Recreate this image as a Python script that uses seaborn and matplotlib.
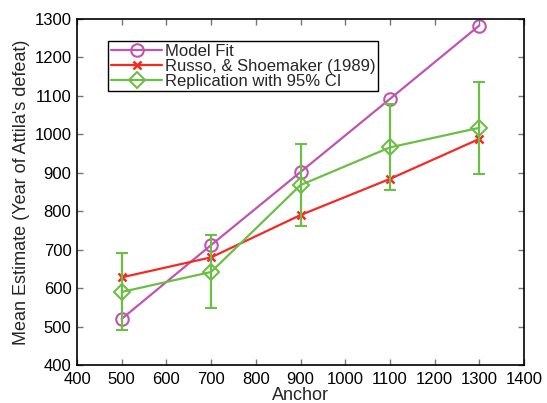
import matplotlib
matplotlib.use("Agg")
import matplotlib.pyplot as plt
import seaborn as sns
import pandas as pd

anchors = [500, 700, 900, 1100, 1300]
model_fit = [520, 712, 902, 1092, 1283]
russo = [628, 680, 790, 884, 988]
replication = [590, 642, 868, 966, 1017]
ci_low = [490, 548, 762, 855, 898]
ci_high = [692, 737, 975, 1080, 1135]

purple = "#c154b0"
red = "#f52a24"
green = "#6cbf45"

sns.set_style("ticks")
plt.rcParams["font.family"] = ["Liberation Sans", "DejaVu Sans"]

fig = plt.figure(figsize=(5.47, 4.03), dpi=100)
ax = fig.add_axes([77 / 547, 38 / 403, 447 / 547, 346 / 403])

df = pd.DataFrame({"anchor": anchors, "model": model_fit, "russo": russo, "rep": replication})

sns.lineplot(data=df, x="anchor", y="model", ax=ax, color=purple, lw=1.6,
             marker="o", ms=9, mfc="none", mec=purple, mew=1.5, label="Model Fit")
sns.lineplot(data=df, x="anchor", y="russo", ax=ax, color=red, lw=1.6,
             marker="x", ms=6, mec=red, mew=1.8, label="Russo, & Shoemaker (1989)")
sns.lineplot(data=df, x="anchor", y="rep", ax=ax, color=green, lw=1.6,
             marker="D", ms=8, mfc="none", mec=green, mew=1.5, label="Replication with 95% CI")

yerr = [[r - lo for r, lo in zip(replication, ci_low)],
        [hi - r for r, hi in zip(replication, ci_high)]]
ax.errorbar(anchors, replication, yerr=yerr, fmt="none", ecolor=green,
            elinewidth=1.6, capsize=4, capthick=1.5)

ax.set_xlim(400, 1400)
ax.set_ylim(400, 1300)
ax.set_xticks(range(400, 1401, 100))
ax.set_yticks(range(400, 1301, 100))
ax.tick_params(direction="in", length=4, width=1, labelsize=12, colors="#777777",
               labelcolor="black", top=True, right=True)
ax.tick_params(axis="x", pad=5)
ax.tick_params(axis="y", pad=4)
for s in ax.spines.values():
    s.set_linewidth(1.2)
    s.set_color("black")

ax.set_xlabel("Anchor", fontsize=13, labelpad=0)
ax.set_ylabel("Mean Estimate (Year of Attila's defeat)", fontsize=13, labelpad=3)

leg = ax.legend(loc="upper left", bbox_to_anchor=(0.07, 0.935), fontsize=12,
                frameon=True, fancybox=False, edgecolor="black", framealpha=1,
                borderpad=0.15, labelspacing=0.0, handlelength=3.1, handletextpad=0.15,
                borderaxespad=0)
leg.get_frame().set_linewidth(1.0)

fig.savefig("out.png", dpi=100)
